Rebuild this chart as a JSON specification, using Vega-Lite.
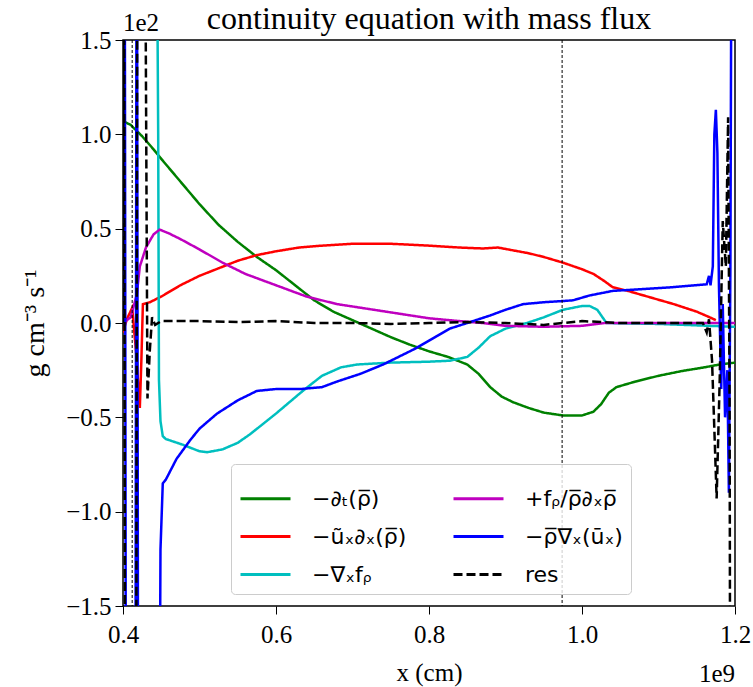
{
  "$schema": "https://vega.github.io/schema/vega-lite/v6.json",
  "width": 612,
  "height": 566,
  "autosize": {"type": "none"},
  "padding": {"left": 123, "top": 40, "right": 18, "bottom": 81},
  "background": "white",
  "config": {
    "view": {"stroke": "black", "strokeWidth": 1.5},
    "axis": {"grid": false, "domain": false, "tickColor": "black", "tickSize": 8, "tickWidth": 1, "labelFont": "Liberation Serif", "labelFontSize": 25, "labelColor": "black", "titleFont": "Liberation Serif", "titleFontSize": 25, "titleFontWeight": "normal", "titleColor": "black", "labelFlush": false, "labelOverlap": false},
    "legend": {"orient": "none", "legendX": 108, "legendY": 424, "columns": 2, "symbolType": "stroke", "symbolSize": 2500, "symbolStrokeWidth": 3, "labelFont": "DejaVu Sans", "labelFontSize": 22, "labelColor": "black", "labelLimit": 400, "fillColor": "rgba(255,255,255,0.8)", "strokeColor": "#cccccc", "cornerRadius": 4, "padding": 8, "rowPadding": 0, "columnPadding": 40, "labelOffset": 20}
  },
  "datasets": {
    "curves": [
      {"term": "−∂ₜ(ρ̅)", "x": 0.400, "y": 1.07},
      {"term": "−∂ₜ(ρ̅)", "x": 0.410, "y": 1.05},
      {"term": "−∂ₜ(ρ̅)", "x": 0.425, "y": 0.99},
      {"term": "−∂ₜ(ρ̅)", "x": 0.440, "y": 0.92},
      {"term": "−∂ₜ(ρ̅)", "x": 0.450, "y": 0.87},
      {"term": "−∂ₜ(ρ̅)", "x": 0.475, "y": 0.75},
      {"term": "−∂ₜ(ρ̅)", "x": 0.500, "y": 0.63},
      {"term": "−∂ₜ(ρ̅)", "x": 0.525, "y": 0.52},
      {"term": "−∂ₜ(ρ̅)", "x": 0.550, "y": 0.43},
      {"term": "−∂ₜ(ρ̅)", "x": 0.575, "y": 0.35},
      {"term": "−∂ₜ(ρ̅)", "x": 0.600, "y": 0.28},
      {"term": "−∂ₜ(ρ̅)", "x": 0.625, "y": 0.20},
      {"term": "−∂ₜ(ρ̅)", "x": 0.650, "y": 0.12},
      {"term": "−∂ₜ(ρ̅)", "x": 0.675, "y": 0.06},
      {"term": "−∂ₜ(ρ̅)", "x": 0.700, "y": 0.015},
      {"term": "−∂ₜ(ρ̅)", "x": 0.725, "y": -0.03},
      {"term": "−∂ₜ(ρ̅)", "x": 0.750, "y": -0.075},
      {"term": "−∂ₜ(ρ̅)", "x": 0.775, "y": -0.115},
      {"term": "−∂ₜ(ρ̅)", "x": 0.800, "y": -0.15},
      {"term": "−∂ₜ(ρ̅)", "x": 0.825, "y": -0.18},
      {"term": "−∂ₜ(ρ̅)", "x": 0.850, "y": -0.22},
      {"term": "−∂ₜ(ρ̅)", "x": 0.865, "y": -0.27},
      {"term": "−∂ₜ(ρ̅)", "x": 0.880, "y": -0.34},
      {"term": "−∂ₜ(ρ̅)", "x": 0.895, "y": -0.39},
      {"term": "−∂ₜ(ρ̅)", "x": 0.910, "y": -0.42},
      {"term": "−∂ₜ(ρ̅)", "x": 0.930, "y": -0.45},
      {"term": "−∂ₜ(ρ̅)", "x": 0.950, "y": -0.475},
      {"term": "−∂ₜ(ρ̅)", "x": 0.975, "y": -0.49},
      {"term": "−∂ₜ(ρ̅)", "x": 1.000, "y": -0.49},
      {"term": "−∂ₜ(ρ̅)", "x": 1.015, "y": -0.47},
      {"term": "−∂ₜ(ρ̅)", "x": 1.025, "y": -0.43},
      {"term": "−∂ₜ(ρ̅)", "x": 1.035, "y": -0.37},
      {"term": "−∂ₜ(ρ̅)", "x": 1.045, "y": -0.34},
      {"term": "−∂ₜ(ρ̅)", "x": 1.070, "y": -0.31},
      {"term": "−∂ₜ(ρ̅)", "x": 1.100, "y": -0.28},
      {"term": "−∂ₜ(ρ̅)", "x": 1.130, "y": -0.255},
      {"term": "−∂ₜ(ρ̅)", "x": 1.160, "y": -0.235},
      {"term": "−∂ₜ(ρ̅)", "x": 1.180, "y": -0.22},
      {"term": "−∂ₜ(ρ̅)", "x": 1.200, "y": -0.21},

      {"term": "−ũₓ∂ₓ(ρ̅)", "x": 0.400, "y": -0.05},
      {"term": "−ũₓ∂ₓ(ρ̅)", "x": 0.405, "y": 0.02},
      {"term": "−ũₓ∂ₓ(ρ̅)", "x": 0.412, "y": 0.08},
      {"term": "−ũₓ∂ₓ(ρ̅)", "x": 0.417, "y": -0.15},
      {"term": "−ũₓ∂ₓ(ρ̅)", "x": 0.422, "y": -0.45},
      {"term": "−ũₓ∂ₓ(ρ̅)", "x": 0.424, "y": -0.2},
      {"term": "−ũₓ∂ₓ(ρ̅)", "x": 0.426, "y": 0.10},
      {"term": "−ũₓ∂ₓ(ρ̅)", "x": 0.435, "y": 0.11},
      {"term": "−ũₓ∂ₓ(ρ̅)", "x": 0.450, "y": 0.14},
      {"term": "−ũₓ∂ₓ(ρ̅)", "x": 0.475, "y": 0.20},
      {"term": "−ũₓ∂ₓ(ρ̅)", "x": 0.500, "y": 0.25},
      {"term": "−ũₓ∂ₓ(ρ̅)", "x": 0.525, "y": 0.29},
      {"term": "−ũₓ∂ₓ(ρ̅)", "x": 0.550, "y": 0.33},
      {"term": "−ũₓ∂ₓ(ρ̅)", "x": 0.575, "y": 0.36},
      {"term": "−ũₓ∂ₓ(ρ̅)", "x": 0.600, "y": 0.38},
      {"term": "−ũₓ∂ₓ(ρ̅)", "x": 0.630, "y": 0.40},
      {"term": "−ũₓ∂ₓ(ρ̅)", "x": 0.660, "y": 0.41},
      {"term": "−ũₓ∂ₓ(ρ̅)", "x": 0.700, "y": 0.42},
      {"term": "−ũₓ∂ₓ(ρ̅)", "x": 0.750, "y": 0.42},
      {"term": "−ũₓ∂ₓ(ρ̅)", "x": 0.800, "y": 0.41},
      {"term": "−ũₓ∂ₓ(ρ̅)", "x": 0.840, "y": 0.40},
      {"term": "−ũₓ∂ₓ(ρ̅)", "x": 0.870, "y": 0.395},
      {"term": "−ũₓ∂ₓ(ρ̅)", "x": 0.890, "y": 0.40},
      {"term": "−ũₓ∂ₓ(ρ̅)", "x": 0.910, "y": 0.385},
      {"term": "−ũₓ∂ₓ(ρ̅)", "x": 0.930, "y": 0.37},
      {"term": "−ũₓ∂ₓ(ρ̅)", "x": 0.950, "y": 0.35},
      {"term": "−ũₓ∂ₓ(ρ̅)", "x": 0.975, "y": 0.32},
      {"term": "−ũₓ∂ₓ(ρ̅)", "x": 1.000, "y": 0.285},
      {"term": "−ũₓ∂ₓ(ρ̅)", "x": 1.015, "y": 0.26},
      {"term": "−ũₓ∂ₓ(ρ̅)", "x": 1.030, "y": 0.22},
      {"term": "−ũₓ∂ₓ(ρ̅)", "x": 1.040, "y": 0.19},
      {"term": "−ũₓ∂ₓ(ρ̅)", "x": 1.060, "y": 0.17},
      {"term": "−ũₓ∂ₓ(ρ̅)", "x": 1.090, "y": 0.135},
      {"term": "−ũₓ∂ₓ(ρ̅)", "x": 1.120, "y": 0.10},
      {"term": "−ũₓ∂ₓ(ρ̅)", "x": 1.150, "y": 0.06},
      {"term": "−ũₓ∂ₓ(ρ̅)", "x": 1.167, "y": 0.03},
      {"term": "−ũₓ∂ₓ(ρ̅)", "x": 1.175, "y": 0.015},

      {"term": "−∇ₓfᵨ", "x": 0.443, "y": 3.0},
      {"term": "−∇ₓfᵨ", "x": 0.446, "y": 1.0},
      {"term": "−∇ₓfᵨ", "x": 0.447, "y": -0.3},
      {"term": "−∇ₓfᵨ", "x": 0.449, "y": -0.52},
      {"term": "−∇ₓfᵨ", "x": 0.452, "y": -0.60},
      {"term": "−∇ₓfᵨ", "x": 0.456, "y": -0.615},
      {"term": "−∇ₓfᵨ", "x": 0.478, "y": -0.645},
      {"term": "−∇ₓfᵨ", "x": 0.500, "y": -0.68},
      {"term": "−∇ₓfᵨ", "x": 0.510, "y": -0.685},
      {"term": "−∇ₓfᵨ", "x": 0.530, "y": -0.67},
      {"term": "−∇ₓfᵨ", "x": 0.550, "y": -0.635},
      {"term": "−∇ₓfᵨ", "x": 0.566, "y": -0.59},
      {"term": "−∇ₓfᵨ", "x": 0.600, "y": -0.48},
      {"term": "−∇ₓfᵨ", "x": 0.635, "y": -0.36},
      {"term": "−∇ₓfᵨ", "x": 0.660, "y": -0.28},
      {"term": "−∇ₓfᵨ", "x": 0.685, "y": -0.235},
      {"term": "−∇ₓfᵨ", "x": 0.706, "y": -0.22},
      {"term": "−∇ₓfᵨ", "x": 0.750, "y": -0.21},
      {"term": "−∇ₓfᵨ", "x": 0.800, "y": -0.205},
      {"term": "−∇ₓfᵨ", "x": 0.827, "y": -0.20},
      {"term": "−∇ₓfᵨ", "x": 0.850, "y": -0.18},
      {"term": "−∇ₓfᵨ", "x": 0.865, "y": -0.13},
      {"term": "−∇ₓfᵨ", "x": 0.880, "y": -0.07},
      {"term": "−∇ₓfᵨ", "x": 0.900, "y": -0.03},
      {"term": "−∇ₓfᵨ", "x": 0.928, "y": 0.0},
      {"term": "−∇ₓfᵨ", "x": 0.950, "y": 0.03},
      {"term": "−∇ₓfᵨ", "x": 0.975, "y": 0.07},
      {"term": "−∇ₓfᵨ", "x": 1.000, "y": 0.09},
      {"term": "−∇ₓfᵨ", "x": 1.010, "y": 0.09},
      {"term": "−∇ₓfᵨ", "x": 1.020, "y": 0.07},
      {"term": "−∇ₓfᵨ", "x": 1.032, "y": 0.0},
      {"term": "−∇ₓfᵨ", "x": 1.100, "y": -0.005},
      {"term": "−∇ₓfᵨ", "x": 1.200, "y": -0.02},

      {"term": "+fᵨ/ρ̅∂ₓρ̅", "x": 0.400, "y": 0.0},
      {"term": "+fᵨ/ρ̅∂ₓρ̅", "x": 0.410, "y": 0.03},
      {"term": "+fᵨ/ρ̅∂ₓρ̅", "x": 0.418, "y": 0.15},
      {"term": "+fᵨ/ρ̅∂ₓρ̅", "x": 0.422, "y": 0.30},
      {"term": "+fᵨ/ρ̅∂ₓρ̅", "x": 0.430, "y": 0.40},
      {"term": "+fᵨ/ρ̅∂ₓρ̅", "x": 0.440, "y": 0.47},
      {"term": "+fᵨ/ρ̅∂ₓρ̅", "x": 0.448, "y": 0.495},
      {"term": "+fᵨ/ρ̅∂ₓρ̅", "x": 0.460, "y": 0.475},
      {"term": "+fᵨ/ρ̅∂ₓρ̅", "x": 0.475, "y": 0.445},
      {"term": "+fᵨ/ρ̅∂ₓρ̅", "x": 0.500, "y": 0.39},
      {"term": "+fᵨ/ρ̅∂ₓρ̅", "x": 0.530, "y": 0.32},
      {"term": "+fᵨ/ρ̅∂ₓρ̅", "x": 0.560, "y": 0.26},
      {"term": "+fᵨ/ρ̅∂ₓρ̅", "x": 0.600, "y": 0.20},
      {"term": "+fᵨ/ρ̅∂ₓρ̅", "x": 0.640, "y": 0.14},
      {"term": "+fᵨ/ρ̅∂ₓρ̅", "x": 0.680, "y": 0.10},
      {"term": "+fᵨ/ρ̅∂ₓρ̅", "x": 0.720, "y": 0.075},
      {"term": "+fᵨ/ρ̅∂ₓρ̅", "x": 0.760, "y": 0.05},
      {"term": "+fᵨ/ρ̅∂ₓρ̅", "x": 0.800, "y": 0.025},
      {"term": "+fᵨ/ρ̅∂ₓρ̅", "x": 0.840, "y": 0.01},
      {"term": "+fᵨ/ρ̅∂ₓρ̅", "x": 0.870, "y": 0.0},
      {"term": "+fᵨ/ρ̅∂ₓρ̅", "x": 0.900, "y": -0.015},
      {"term": "+fᵨ/ρ̅∂ₓρ̅", "x": 0.950, "y": -0.02},
      {"term": "+fᵨ/ρ̅∂ₓρ̅", "x": 1.000, "y": -0.015},
      {"term": "+fᵨ/ρ̅∂ₓρ̅", "x": 1.030, "y": 0.0},
      {"term": "+fᵨ/ρ̅∂ₓρ̅", "x": 1.100, "y": 0.0},
      {"term": "+fᵨ/ρ̅∂ₓρ̅", "x": 1.200, "y": 0.0},

      {"term": "−ρ̅∇ₓ(ūₓ)", "x": 0.400, "y": 0.0},
      {"term": "−ρ̅∇ₓ(ūₓ)", "x": 0.402, "y": 3.0},
      {"term": "−ρ̅∇ₓ(ūₓ)", "x": 0.404, "y": -3.0},
      {"term": "−ρ̅∇ₓ(ūₓ)", "x": 0.416, "y": -3.0},
      {"term": "−ρ̅∇ₓ(ūₓ)", "x": 0.418, "y": 3.0},
      {"term": "−ρ̅∇ₓ(ūₓ)", "x": 0.420, "y": -3.0},
      {"term": "−ρ̅∇ₓ(ūₓ)", "x": 0.447, "y": -3.0},
      {"term": "−ρ̅∇ₓ(ūₓ)", "x": 0.449, "y": -1.2},
      {"term": "−ρ̅∇ₓ(ūₓ)", "x": 0.452, "y": -0.85},
      {"term": "−ρ̅∇ₓ(ūₓ)", "x": 0.456, "y": -0.83},
      {"term": "−ρ̅∇ₓ(ūₓ)", "x": 0.470, "y": -0.72},
      {"term": "−ρ̅∇ₓ(ūₓ)", "x": 0.488, "y": -0.62},
      {"term": "−ρ̅∇ₓ(ūₓ)", "x": 0.500, "y": -0.56},
      {"term": "−ρ̅∇ₓ(ūₓ)", "x": 0.523, "y": -0.48},
      {"term": "−ρ̅∇ₓ(ūₓ)", "x": 0.550, "y": -0.41},
      {"term": "−ρ̅∇ₓ(ūₓ)", "x": 0.575, "y": -0.36},
      {"term": "−ρ̅∇ₓ(ūₓ)", "x": 0.600, "y": -0.35},
      {"term": "−ρ̅∇ₓ(ūₓ)", "x": 0.632, "y": -0.35},
      {"term": "−ρ̅∇ₓ(ūₓ)", "x": 0.660, "y": -0.34},
      {"term": "−ρ̅∇ₓ(ūₓ)", "x": 0.680, "y": -0.31},
      {"term": "−ρ̅∇ₓ(ūₓ)", "x": 0.710, "y": -0.27},
      {"term": "−ρ̅∇ₓ(ūₓ)", "x": 0.740, "y": -0.22},
      {"term": "−ρ̅∇ₓ(ūₓ)", "x": 0.780, "y": -0.14},
      {"term": "−ρ̅∇ₓ(ūₓ)", "x": 0.810, "y": -0.07},
      {"term": "−ρ̅∇ₓ(ūₓ)", "x": 0.827, "y": -0.03},
      {"term": "−ρ̅∇ₓ(ūₓ)", "x": 0.850, "y": 0.0},
      {"term": "−ρ̅∇ₓ(ūₓ)", "x": 0.880, "y": 0.04},
      {"term": "−ρ̅∇ₓ(ūₓ)", "x": 0.900, "y": 0.07},
      {"term": "−ρ̅∇ₓ(ūₓ)", "x": 0.923, "y": 0.10},
      {"term": "−ρ̅∇ₓ(ūₓ)", "x": 0.950, "y": 0.11},
      {"term": "−ρ̅∇ₓ(ūₓ)", "x": 0.988, "y": 0.12},
      {"term": "−ρ̅∇ₓ(ūₓ)", "x": 1.010, "y": 0.146},
      {"term": "−ρ̅∇ₓ(ūₓ)", "x": 1.040, "y": 0.17},
      {"term": "−ρ̅∇ₓ(ūₓ)", "x": 1.080, "y": 0.18},
      {"term": "−ρ̅∇ₓ(ūₓ)", "x": 1.119, "y": 0.19},
      {"term": "−ρ̅∇ₓ(ūₓ)", "x": 1.163, "y": 0.205},
      {"term": "−ρ̅∇ₓ(ūₓ)", "x": 1.166, "y": 0.25},
      {"term": "−ρ̅∇ₓ(ūₓ)", "x": 1.168, "y": 0.2},
      {"term": "−ρ̅∇ₓ(ūₓ)", "x": 1.171, "y": 0.3},
      {"term": "−ρ̅∇ₓ(ūₓ)", "x": 1.173, "y": 1.0},
      {"term": "−ρ̅∇ₓ(ūₓ)", "x": 1.175, "y": 1.13},
      {"term": "−ρ̅∇ₓ(ūₓ)", "x": 1.177, "y": 0.9},
      {"term": "−ρ̅∇ₓ(ūₓ)", "x": 1.179, "y": 0.2},
      {"term": "−ρ̅∇ₓ(ūₓ)", "x": 1.182, "y": -0.35},
      {"term": "−ρ̅∇ₓ(ūₓ)", "x": 1.184, "y": 0.1},
      {"term": "−ρ̅∇ₓ(ūₓ)", "x": 1.187, "y": -0.5},
      {"term": "−ρ̅∇ₓ(ūₓ)", "x": 1.190, "y": -0.25},
      {"term": "−ρ̅∇ₓ(ūₓ)", "x": 1.192, "y": -0.9},
      {"term": "−ρ̅∇ₓ(ūₓ)", "x": 1.194, "y": 0.3},
      {"term": "−ρ̅∇ₓ(ūₓ)", "x": 1.196, "y": 3.0},

      {"term": "res", "x": 0.400, "y": 0.0},
      {"term": "res", "x": 0.401, "y": 3.0},
      {"term": "res", "x": 0.403, "y": -3.0},
      {"term": "res", "x": 0.417, "y": -3.0},
      {"term": "res", "x": 0.419, "y": 3.0},
      {"term": "res", "x": 0.428, "y": 3.0},
      {"term": "res", "x": 0.432, "y": -0.40},
      {"term": "res", "x": 0.435, "y": -0.15},
      {"term": "res", "x": 0.438, "y": 0.03},
      {"term": "res", "x": 0.442, "y": -0.01},
      {"term": "res", "x": 0.450, "y": 0.01},
      {"term": "res", "x": 0.500, "y": 0.01},
      {"term": "res", "x": 0.550, "y": 0.005},
      {"term": "res", "x": 0.600, "y": 0.01},
      {"term": "res", "x": 0.650, "y": 0.0},
      {"term": "res", "x": 0.700, "y": 0.0},
      {"term": "res", "x": 0.750, "y": -0.005},
      {"term": "res", "x": 0.800, "y": 0.0},
      {"term": "res", "x": 0.850, "y": 0.005},
      {"term": "res", "x": 0.900, "y": 0.0},
      {"term": "res", "x": 0.950, "y": -0.01},
      {"term": "res", "x": 0.975, "y": 0.0},
      {"term": "res", "x": 1.000, "y": 0.01},
      {"term": "res", "x": 1.050, "y": 0.0},
      {"term": "res", "x": 1.100, "y": 0.0},
      {"term": "res", "x": 1.158, "y": 0.0},
      {"term": "res", "x": 1.163, "y": -0.05},
      {"term": "res", "x": 1.166, "y": 0.02},
      {"term": "res", "x": 1.170, "y": -0.2},
      {"term": "res", "x": 1.176, "y": -0.93},
      {"term": "res", "x": 1.180, "y": -0.3},
      {"term": "res", "x": 1.184, "y": 0.54},
      {"term": "res", "x": 1.188, "y": 0.3},
      {"term": "res", "x": 1.191, "y": 1.09},
      {"term": "res", "x": 1.193, "y": -0.5},
      {"term": "res", "x": 1.194, "y": -3.0}
    ],
    "vlines": [{"xv": 0.412}, {"xv": 0.974}],
    "notes": [{"lab": "1e2", "xn": 0.4, "yn": 1.5}, {"lab": "1e9", "xn": 1.2, "yn": -1.5}, {"lab": "continuity equation with mass flux", "xn": 0.8, "yn": 1.5}]
  },
  "layer": [
    {
      "data": {"name": "curves"},
      "mark": {"type": "line", "strokeWidth": 2.5, "clip": true},
      "encoding": {
        "x": {"field": "x", "type": "quantitative", "scale": {"domain": [0.4, 1.2], "nice": false, "zero": false}, "axis": {"values": [0.4, 0.6, 0.8, 1.0, 1.2], "format": ".1f", "title": "x (cm)", "labelPadding": 8, "titlePadding": 13}},
        "y": {"field": "y", "type": "quantitative", "scale": {"domain": [-1.5, 1.5], "nice": false, "zero": false}, "axis": {"values": [-1.5, -1.0, -0.5, 0.0, 0.5, 1.0, 1.5], "format": ".1f", "title": "g cm⁻³ s⁻¹", "titleFontSize": 28, "labelPadding": 4, "titlePadding": 16}},
        "color": {"field": "term", "type": "nominal", "title": null, "sort": null,
          "scale": {"domain": ["−∂ₜ(ρ̅)", "−ũₓ∂ₓ(ρ̅)", "−∇ₓfᵨ", "+fᵨ/ρ̅∂ₓρ̅", "−ρ̅∇ₓ(ūₓ)", "res"],
                    "range": ["#008000", "#ff0000", "#00bfbf", "#bf00bf", "#0000ff", "#000000"]}},
        "strokeDash": {"field": "term", "type": "nominal", "title": null, "sort": null,
          "scale": {"domain": ["−∂ₜ(ρ̅)", "−ũₓ∂ₓ(ρ̅)", "−∇ₓfᵨ", "+fᵨ/ρ̅∂ₓρ̅", "−ρ̅∇ₓ(ūₓ)", "res"],
                    "range": [[1, 0], [1, 0], [1, 0], [1, 0], [1, 0], [9, 4]]}}
      }
    },
    {
      "data": {"name": "vlines"},
      "mark": {"type": "rule", "color": "black", "strokeWidth": 1, "strokeDash": [3, 2]},
      "encoding": {"x": {"field": "xv", "type": "quantitative"}}
    },
    {
      "data": {"name": "notes"},
      "transform": [{"filter": "datum.lab === '1e2'"}],
      "mark": {"type": "text", "font": "Liberation Serif", "fontSize": 25, "align": "left", "baseline": "alphabetic", "dy": -9, "color": "black"},
      "encoding": {"x": {"field": "xn", "type": "quantitative"}, "y": {"field": "yn", "type": "quantitative"}, "text": {"field": "lab"}}
    },
    {
      "data": {"name": "notes"},
      "transform": [{"filter": "datum.lab === '1e9'"}],
      "mark": {"type": "text", "font": "Liberation Serif", "fontSize": 25, "align": "right", "baseline": "alphabetic", "dy": 76, "color": "black"},
      "encoding": {"x": {"field": "xn", "type": "quantitative"}, "y": {"field": "yn", "type": "quantitative"}, "text": {"field": "lab"}}
    },
    {
      "data": {"name": "notes"},
      "transform": [{"filter": "length(datum.lab) > 3"}],
      "mark": {"type": "text", "font": "Liberation Serif", "fontSize": 32, "align": "center", "baseline": "alphabetic", "dy": -11, "color": "black"},
      "encoding": {"x": {"field": "xn", "type": "quantitative"}, "y": {"field": "yn", "type": "quantitative"}, "text": {"field": "lab"}}
    }
  ]
}
